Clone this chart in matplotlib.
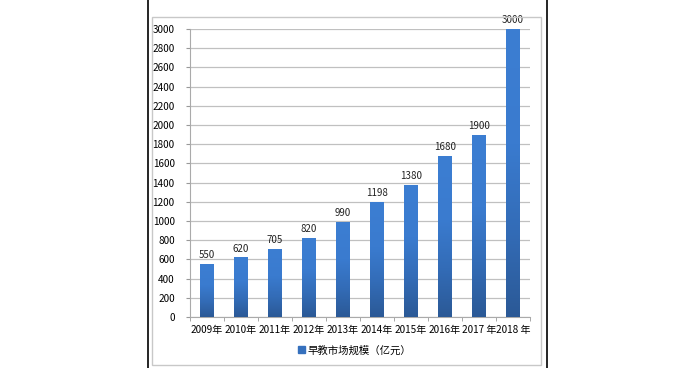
import numpy as np
import matplotlib
matplotlib.use("Agg")
import matplotlib.pyplot as plt
from matplotlib.colors import LinearSegmentedColormap
from matplotlib.patches import Rectangle
from matplotlib.lines import Line2D

plt.rcParams['font.family'] = ['Noto Sans CJK SC', 'DejaVu Sans']

# 数据
years = ["2009年", "2010年", "2011年", "2012年", "2013年",
         "2014年", "2015年", "2016年", "2017 年", "2018 年"]
values = [550, 620, 705, 820, 990, 1198, 1380, 1680, 1900, 3000]
series_name = "早教市场规模（亿元）"

fig = plt.figure(figsize=(7, 3.68), dpi=100)
ax = fig.add_axes([190 / 700, 51 / 368, 340 / 700, 288 / 368])

# 外框
fig.add_artist(Line2D([148 / 700, 148 / 700], [0, 1], color="black", lw=1.2))
fig.add_artist(Line2D([547 / 700, 547 / 700], [0, 1], color="black", lw=1.2))
fig.add_artist(Rectangle((152 / 700, 3 / 368), 389 / 700, 348 / 368,
                         fill=False, edgecolor="#c8c8c8", lw=1.0))

x = np.arange(len(years))
cmap = LinearSegmentedColormap.from_list(
    "bar", [(0, "#2b5996"), (0.3, "#336cb7"), (0.6, "#3a7bcf"), (1, "#3c7ed2")])
grad = np.linspace(0, 1, 256).reshape(-1, 1)

bars = ax.bar(x, values, width=0.4, color="none", zorder=3)
for rect, v in zip(bars, values):
    x0 = rect.get_x()
    im = ax.imshow(grad, cmap=cmap, origin="lower", aspect="auto",
                   extent=[x0, x0 + rect.get_width(), 0, v], zorder=3)
    im.set_clip_path(rect)
    ax.text(rect.get_x() + rect.get_width() / 2, v + 40, str(v),
            ha="center", va="bottom", fontsize=7, color="#222222")

ax.set_xlim(-0.5, len(years) - 0.5)
ax.set_ylim(0, 3000)
ax.set_yticks(range(0, 3001, 200))
ax.set_xticks(x)
ax.set_xticklabels(years, fontsize=7.2)
ax.set_xticks(np.arange(-0.5, len(years), 1), minor=True)
ax.tick_params(axis="x", which="major", length=0, pad=6)
ax.tick_params(axis="x", which="minor", length=3, color="#999999")
ax.tick_params(axis="y", labelsize=7.2, length=3, color="#999999", pad=8)

ax.grid(axis="y", color="#c0c0c0", lw=0.9, zorder=0)
for s in ["top", "right"]:
    ax.spines[s].set_visible(False)
ax.spines["left"].set_color("#aaaaaa")
ax.spines["bottom"].set_color("#aaaaaa")

handle = Rectangle((0, 0), 1, 1, color="#3570bd")
fig.legend([handle], [series_name], loc="center", bbox_to_anchor=(0.507, 0.048),
           frameon=False, fontsize=7.5, handlelength=0.6, handleheight=0.6,
           handletextpad=0.3)

fig.savefig("out.png", dpi=100)
